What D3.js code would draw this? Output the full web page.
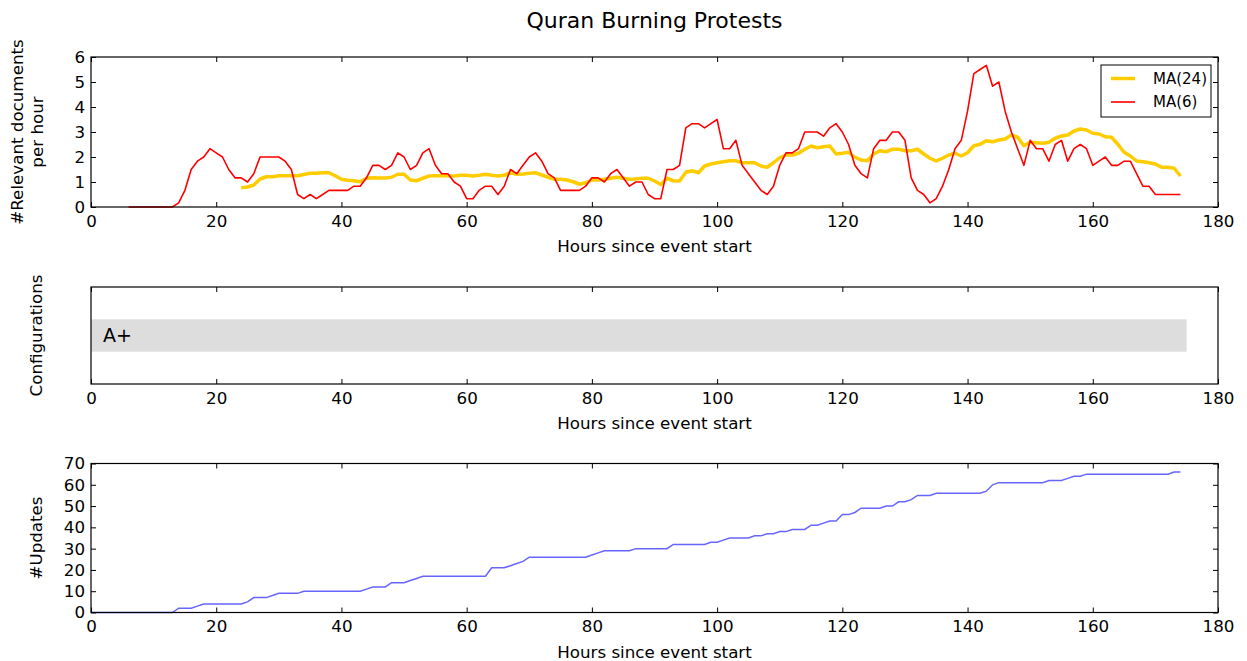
<!DOCTYPE html>
<html>
<head>
<meta charset="utf-8">
<script src="https://cdn.jsdelivr.net/npm/d3@7"></script>
<style>
  body { margin: 0; background: #fff; }
  svg { font-family: "DejaVu Sans", sans-serif; }
</style>
</head>
<body>
<svg id="chart" width="1247" height="661"></svg>
<script>
// hourly values
const ma6Start = 6;
const ma6 = [
  0, 0, 0, 0, 0, 0, 0, 0, 0.167, 0.667, 1.5, 1.833, 2.0, 2.333, 2.167, 2.0, 1.5, 1.167, 1.167, 1.0,
  1.333, 2.0, 2.0, 2.0, 2.0, 1.833, 1.5, 0.5, 0.333, 0.5, 0.333, 0.5, 0.667, 0.667, 0.667, 0.667, 0.833, 0.833, 1.167, 1.667,
  1.667, 1.5, 1.667, 2.167, 2.0, 1.5, 1.667, 2.167, 2.333, 1.667, 1.333, 1.333, 1.0, 0.833, 0.333, 0.333, 0.667, 0.833, 0.833, 0.5,
  0.833, 1.5, 1.333, 1.667, 2.0, 2.167, 1.833, 1.333, 1.167, 0.667, 0.667, 0.667, 0.667, 0.833, 1.167, 1.167, 1.0, 1.333, 1.5, 1.167,
  0.833, 1.0, 1.0, 0.5, 0.333, 0.333, 1.5, 1.5, 1.667, 3.167, 3.333, 3.333, 3.167, 3.333, 3.5, 2.333, 2.333, 2.667, 1.667, 1.333,
  1.0, 0.667, 0.5, 0.833, 1.667, 2.167, 2.167, 2.333, 3.0, 3.0, 3.0, 2.833, 3.167, 3.333, 3.0, 2.5, 1.667, 1.333, 1.167, 2.333,
  2.667, 2.667, 3.0, 3.0, 2.667, 1.167, 0.667, 0.5, 0.167, 0.333, 0.833, 1.5, 2.333, 2.667, 3.833, 5.333, 5.5, 5.667, 4.833, 5.0,
  3.833, 3.0, 2.333, 1.667, 2.667, 2.333, 2.333, 1.833, 2.5, 2.667, 1.833, 2.333, 2.5, 2.333, 1.667, 1.833, 2.0, 1.667, 1.667, 1.833,
  1.833, 1.333, 0.833, 0.833, 0.5, 0.5, 0.5, 0.5, 0.5
];

const ma24Start = 24;
const ma24 = [
  0.77, 0.80, 0.88, 1.12, 1.21, 1.21, 1.25, 1.25, 1.25, 1.25, 1.30, 1.35, 1.35, 1.37, 1.37, 1.25, 1.11, 1.07, 1.05, 1.01,
  1.15, 1.17, 1.16, 1.16, 1.19, 1.31, 1.31, 1.08, 1.05, 1.15, 1.24, 1.25, 1.25, 1.25, 1.24, 1.27, 1.27, 1.24, 1.27, 1.31,
  1.27, 1.24, 1.27, 1.37, 1.31, 1.32, 1.35, 1.37, 1.28, 1.19, 1.11, 1.11, 1.08, 1.01, 0.91, 0.97, 1.08, 1.08, 1.11, 1.15,
  1.19, 1.15, 1.11, 1.12, 1.15, 1.15, 1.04, 0.90, 1.15, 1.05, 1.04, 1.39, 1.45, 1.37, 1.64, 1.72, 1.77, 1.81, 1.85, 1.85,
  1.77, 1.77, 1.77, 1.64, 1.59, 1.77, 1.97, 2.08, 2.08, 2.15, 2.31, 2.44, 2.37, 2.41, 2.44, 2.12, 2.15, 2.19, 1.99, 1.88,
  1.85, 2.12, 2.25, 2.21, 2.31, 2.31, 2.25, 2.25, 2.31, 2.12, 1.95, 1.84, 1.95, 2.08, 2.15, 2.04, 2.17, 2.45, 2.51, 2.65,
  2.61, 2.68, 2.72, 2.88, 2.79, 2.45, 2.59, 2.57, 2.55, 2.59, 2.75, 2.84, 2.88, 3.04, 3.12, 3.08, 2.95, 2.92, 2.81, 2.79,
  2.51, 2.19, 2.04, 1.84, 1.81, 1.77, 1.72, 1.59, 1.59, 1.55, 1.24
];

const updatesStart = 0;
const updates = [
  0, 0, 0, 0, 0, 0, 0, 0, 0, 0, 0, 0, 0, 0, 2, 2, 2, 3, 4, 4,
  4, 4, 4, 4, 4, 5, 7, 7, 7, 8, 9, 9, 9, 9, 10, 10, 10, 10, 10, 10,
  10, 10, 10, 10, 11, 12, 12, 12, 14, 14, 14, 15, 16, 17, 17, 17, 17, 17, 17, 17,
  17, 17, 17, 17, 21, 21, 21, 22, 23, 24, 26, 26, 26, 26, 26, 26, 26, 26, 26, 26,
  27, 28, 29, 29, 29, 29, 29, 30, 30, 30, 30, 30, 30, 32, 32, 32, 32, 32, 32, 33,
  33, 34, 35, 35, 35, 35, 36, 36, 37, 37, 38, 38, 39, 39, 39, 41, 41, 42, 43, 43,
  46, 46, 47, 49, 49, 49, 49, 50, 50, 52, 52, 53, 55, 55, 55, 56, 56, 56, 56, 56,
  56, 56, 56, 57, 60, 61, 61, 61, 61, 61, 61, 61, 61, 62, 62, 62, 63, 64, 64, 65,
  65, 65, 65, 65, 65, 65, 65, 65, 65, 65, 65, 65, 65, 66, 66
];

const configs = [{ label: "A+", start: 0, end: 175 }];
const xTicks = [0, 20, 40, 60, 80, 100, 120, 140, 160, 180];

const svg = d3.select("#chart");
const left = 91, right = 1218;
const x = d3.scaleLinear().domain([0, 180]).range([left, right]);
const FS = 16.7;

svg.append("text")
  .attr("x", (left + right) / 2).attr("y", 28)
  .attr("text-anchor", "middle").attr("font-size", 22)
  .text("Quran Burning Protests");

function panel(top, bottom, yDomain, yTicks) {
  const y = d3.scaleLinear().domain(yDomain).range([bottom, top]);
  const g = svg.append("g");

  g.append("g").attr("transform", `translate(0,${bottom})`)
    .call(d3.axisBottom(x).tickValues(xTicks).tickSizeInner(-5).tickSizeOuter(0).tickPadding(8));
  g.append("g").attr("transform", `translate(0,${top})`)
    .call(d3.axisTop(x).tickValues(xTicks).tickSizeInner(-5).tickSizeOuter(0).tickFormat(""));
  if (yTicks) {
    g.append("g").attr("transform", `translate(${left},0)`)
      .call(d3.axisLeft(y).tickValues(yTicks).tickFormat(d3.format("d"))
        .tickSizeInner(-5).tickSizeOuter(0).tickPadding(6));
    g.append("g").attr("transform", `translate(${right},0)`)
      .call(d3.axisRight(y).tickValues(yTicks).tickSizeInner(-5).tickSizeOuter(0).tickFormat(""));
  }
  g.selectAll(".domain").remove();
  g.selectAll(".tick line").attr("stroke", "#000");
  g.selectAll(".tick text").attr("font-size", FS).attr("font-family", "DejaVu Sans").attr("fill", "#000");

  g.append("text")
    .attr("x", (left + right) / 2).attr("y", bottom + 45)
    .attr("text-anchor", "middle").attr("font-size", FS)
    .text("Hours since event start");
  return { g, y, top, bottom };
}

function frame(p) {
  p.g.append("rect")
    .attr("x", left).attr("y", p.top)
    .attr("width", right - left).attr("height", p.bottom - p.top)
    .attr("fill", "none").attr("stroke", "#000").attr("stroke-width", 1.2);
}

function yLabel(lines, cy, xs) {
  lines.forEach((t, i) => {
    svg.append("text")
      .attr("transform", `translate(${xs[i]},${cy}) rotate(-90)`)
      .attr("text-anchor", "middle").attr("font-size", FS)
      .text(t);
  });
}

// --- top panel: moving averages
const p1 = panel(57, 207, [0, 6], [0, 1, 2, 3, 4, 5, 6]);
const line1 = d3.line().x(d => x(d.h)).y(d => p1.y(d.v));
const ma24Pts = ma24.map((v, i) => ({ h: ma24Start + i, v }));
const ma6Pts = ma6.map((v, i) => ({ h: ma6Start + i, v }));
p1.g.append("path").datum(ma24Pts).attr("d", line1)
  .attr("fill", "none").attr("stroke", "#ffcc00").attr("stroke-width", 3.5).attr("stroke-linejoin", "round");
p1.g.append("path").datum(ma6Pts).attr("d", line1)
  .attr("fill", "none").attr("stroke", "#ff0000").attr("stroke-width", 1.6).attr("stroke-linejoin", "round");
frame(p1);

const leg = p1.g.append("g");
leg.append("rect").attr("x", 1101).attr("y", 65).attr("width", 110).attr("height", 52)
  .attr("fill", "#fff").attr("stroke", "#000").attr("stroke-width", 1);
[{ name: "MA(24)", color: "#ffcc00", w: 3.5 }, { name: "MA(6)", color: "#ff0000", w: 1.6 }].forEach((s, i) => {
  const ly = 78.5 + i * 23.5;
  leg.append("line").attr("x1", 1111).attr("x2", 1135).attr("y1", ly).attr("y2", ly)
    .attr("stroke", s.color).attr("stroke-width", s.w);
  leg.append("text").attr("x", 1153).attr("y", ly).attr("dy", "0.36em")
    .attr("font-size", 15).text(s.name);
});
yLabel(["#Relevant documents", "per hour"], 132, [23, 43]);

// --- middle panel: configurations
const p2 = panel(287, 384, [-1.5, 1.5], null);
p2.g.selectAll(".cfg").data(configs).join("rect")
  .attr("x", d => x(d.start)).attr("width", d => x(d.end) - x(d.start))
  .attr("y", p2.y(0.5)).attr("height", p2.y(-0.5) - p2.y(0.5))
  .attr("fill", "#dddddd");
p2.g.selectAll(".cfgl").data(configs).join("text")
  .attr("x", d => x(d.start + 1.9)).attr("y", p2.y(0)).attr("dy", "0.36em")
  .attr("font-size", 19).text(d => d.label);
frame(p2);
yLabel(["Configurations"], 335.5, [42]);

// --- bottom panel: updates
const p3 = panel(463.5, 612.5, [0, 70], [0, 10, 20, 30, 40, 50, 60, 70]);
const line3 = d3.line().x(d => x(d.h)).y(d => p3.y(d.v));
p3.g.append("path").datum(updates.map((v, i) => ({ h: updatesStart + i, v }))).attr("d", line3)
  .attr("fill", "none").attr("stroke", "#6666ff").attr("stroke-width", 1.5);
frame(p3);
yLabel(["#Updates"], 538, [42]);
</script>
</body>
</html>
